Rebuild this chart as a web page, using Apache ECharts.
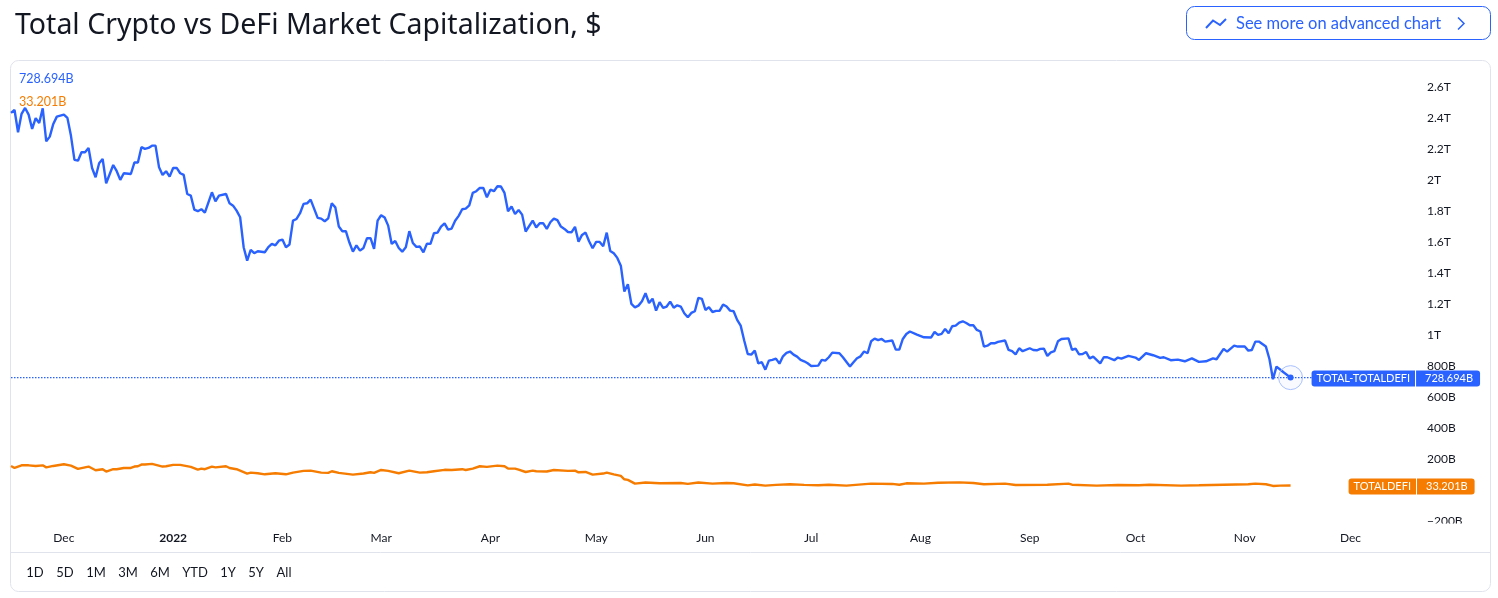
<!DOCTYPE html>
<html>
<head>
<meta charset="utf-8">
<style>
    html, body { margin: 0; padding: 0; background: #fff; }
    #chart { width: 1498px; height: 598px; }
</style>
<script src="https://cdn.jsdelivr.net/npm/echarts@6/dist/echarts.min.js"></script>
</head>
<body>
<div id="chart"></div>
<script>
// days counted from the first bar of the chart (2021-11-16), values in billions of dollars
const totalDays = [0, 1, 2, 3, 4, 5, 6, 7, 8, 9, 10, 11, 12, 13, 15, 16, 17, 18, 19, 20, 21, 22, 23, 24, 25, 26, 27, 29, 30, 31, 32, 34, 35, 36, 37, 38, 39, 40, 41, 42, 43, 44, 45, 46, 47, 48, 49, 50, 51, 52, 53, 54, 55, 57, 58, 59, 61, 62, 63, 64, 65, 66, 67, 68, 69, 70, 72, 73, 74, 75, 76, 77, 78, 79, 80, 81, 82, 83, 84, 85, 87, 88, 89, 90, 91, 92, 93, 94, 95, 96, 97, 98, 99, 100, 101, 102, 103, 104, 105, 106, 107, 108, 109, 110, 111, 112, 113, 114, 115, 116, 117, 118, 119, 120, 121, 122, 123, 124, 125, 126, 127, 128, 129, 130, 131, 132, 133, 134, 135, 136, 137, 138, 139, 140, 141, 142, 143, 144, 145, 146, 148, 149, 150, 151, 152, 153, 154, 155, 156, 157, 158, 159, 160, 161, 162, 163, 164, 165, 166, 167, 168, 169, 170, 171, 172, 173, 174, 175, 176, 177, 178, 179, 180, 181, 182, 183, 184, 185, 186, 187, 188, 189, 190, 191, 192, 193, 194, 195, 196, 197, 198, 199, 200, 201, 202, 203, 204, 205, 206, 207, 208, 209, 210, 211, 212, 213, 214, 215, 216, 217, 218, 219, 220, 221, 222, 223, 224, 225, 226, 227, 229, 230, 231, 232, 233, 235, 236, 238, 239, 240, 241, 242, 243, 244, 245, 246, 247, 248, 250, 251, 252, 253, 254, 255, 257, 259, 261, 262, 263, 264, 265, 266, 267, 268, 269, 270, 271, 272, 273, 274, 275, 276, 277, 278, 279, 280, 282, 283, 284, 285, 286, 287, 289, 290, 291, 292, 293, 294, 295, 296, 297, 298, 300, 301, 302, 303, 304, 305, 306, 307, 309, 310, 311, 313, 314, 315, 317, 319, 320, 322, 324, 326, 327, 329, 331, 333, 335, 337, 339, 341, 342, 344, 345, 347, 348, 350, 351, 352, 353, 354, 356, 357, 358, 359, 361, 363];
const totalValues = [2436, 2455, 2311, 2430, 2468, 2425, 2333, 2402, 2371, 2466, 2253, 2283, 2365, 2412, 2425, 2404, 2290, 2133, 2128, 2182, 2182, 2210, 2081, 2021, 2111, 2139, 1982, 2100, 2060, 2004, 2047, 2042, 2116, 2116, 2215, 2204, 2210, 2225, 2225, 2085, 2036, 2060, 2025, 2081, 2081, 2047, 2036, 1913, 1903, 1812, 1802, 1815, 1793, 1924, 1866, 1903, 1913, 1853, 1838, 1806, 1763, 1570, 1483, 1552, 1531, 1544, 1537, 1570, 1591, 1582, 1612, 1619, 1570, 1587, 1741, 1752, 1789, 1849, 1853, 1877, 1759, 1754, 1737, 1756, 1853, 1827, 1703, 1673, 1673, 1600, 1541, 1582, 1548, 1565, 1628, 1628, 1559, 1741, 1776, 1761, 1709, 1591, 1610, 1565, 1541, 1569, 1673, 1597, 1572, 1574, 1537, 1593, 1591, 1660, 1664, 1703, 1724, 1683, 1690, 1741, 1772, 1815, 1819, 1840, 1920, 1931, 1952, 1952, 1892, 1941, 1931, 1963, 1961, 1920, 1802, 1832, 1784, 1810, 1780, 1671, 1741, 1698, 1724, 1724, 1688, 1731, 1754, 1744, 1703, 1688, 1668, 1666, 1701, 1606, 1649, 1664, 1608, 1563, 1604, 1604, 1576, 1664, 1546, 1531, 1501, 1451, 1284, 1331, 1204, 1182, 1193, 1221, 1273, 1210, 1238, 1161, 1215, 1178, 1187, 1219, 1180, 1195, 1187, 1144, 1118, 1146, 1157, 1243, 1236, 1165, 1183, 1152, 1159, 1159, 1200, 1187, 1161, 1157, 1101, 1064, 968, 881, 877, 903, 821, 828, 780, 838, 843, 851, 819, 866, 888, 897, 877, 864, 843, 834, 821, 804, 806, 843, 838, 860, 890, 886, 860, 800, 828, 854, 866, 897, 886, 963, 980, 970, 978, 961, 968, 909, 909, 978, 1010, 1026, 1006, 989, 987, 1023, 1004, 1011, 1043, 1015, 1060, 1064, 1084, 1092, 1081, 1066, 1066, 1036, 1026, 929, 935, 950, 950, 959, 968, 907, 899, 879, 918, 899, 918, 907, 905, 914, 916, 869, 892, 899, 963, 978, 982, 907, 916, 879, 881, 894, 853, 864, 821, 860, 860, 841, 858, 851, 869, 858, 843, 886, 873, 856, 860, 841, 845, 834, 853, 830, 834, 853, 847, 914, 896, 935, 929, 929, 903, 907, 961, 961, 929, 849, 718, 800, 763, 728.694];

const defiDays = [0, 1, 3, 5, 7, 9, 10, 12, 15, 17, 19, 22, 24, 26, 27, 29, 30, 32, 34, 35, 36, 37, 38, 40, 43, 44, 46, 48, 51, 53, 54, 55, 57, 58, 61, 62, 64, 67, 68, 70, 72, 75, 78, 80, 83, 85, 88, 90, 91, 93, 97, 100, 102, 103, 105, 107, 110, 113, 116, 118, 120, 123, 125, 128, 129, 131, 133, 135, 138, 140, 141, 143, 144, 146, 148, 149, 152, 154, 158, 160, 161, 163, 165, 168, 169, 171, 173, 174, 175, 177, 180, 184, 190, 192, 195, 199, 203, 205, 209, 211, 214, 217, 221, 225, 229, 232, 237, 244, 250, 252, 254, 259, 263, 269, 273, 276, 282, 285, 294, 300, 301, 308, 314, 320, 323, 332, 337, 351, 353, 356, 358, 360, 363];
const defiValues = [159, 146, 163, 163, 159, 163, 150, 159, 170, 161, 140, 155, 131, 138, 123, 138, 138, 146, 146, 155, 157, 168, 168, 172, 155, 157, 166, 166, 153, 135, 142, 138, 155, 150, 157, 146, 138, 110, 116, 112, 105, 112, 105, 116, 127, 129, 116, 114, 125, 114, 103, 110, 118, 114, 133, 127, 112, 129, 116, 118, 125, 134, 133, 138, 133, 142, 157, 153, 161, 157, 142, 142, 135, 120, 129, 125, 123, 133, 127, 129, 118, 120, 103, 110, 116, 105, 95, 73, 69, 45, 52, 47, 49, 43, 52, 45, 49, 47, 34, 39, 32, 37, 41, 37, 34, 38, 32, 45, 43, 38, 47, 45, 51, 53, 49, 41, 45, 36, 38, 45, 38, 32, 36, 34, 38, 32, 34, 41, 45, 41, 30, 32, 33.201];

const monthTicks = ["2021-12-01", "2022-01-01", "2022-02-01", "2022-03-01", "2022-04-01", "2022-05-01", "2022-06-01", "2022-07-01", "2022-08-01", "2022-09-01", "2022-10-01", "2022-11-01", "2022-12-01"];
const monthLabels = ["Dec", "2022", "Feb", "Mar", "Apr", "May", "Jun", "Jul", "Aug", "Sep", "Oct", "Nov", "Dec"];
const priceTicks = [-200, 0, 200, 400, 600, 800, 1000, 1200, 1400, 1600, 1800, 2000, 2200, 2400, 2600];
const priceLabels = ["−200B", "", "200B", "400B", "600B", "800B", "1T", "1.2T", "1.4T", "1.6T", "1.8T", "2T", "2.2T", "2.4T", "2.6T"];
const rangeLabels = ["1D", "5D", "1M", "3M", "6M", "YTD", "1Y", "5Y", "All"];
const rangeCenters = [35, 65, 96, 128, 160, 195, 228, 256, 284];

const BLUE = "#2962ff";
const ORANGE = "#f57c00";
const INK = "#131722";
const FONT = "Lato, 'Noto Sans', sans-serif";

const firstDay = Date.UTC(2021, 10, 16);
const zip = (days, values) => days.map((day, i) => [day, values[i]]);
const tickDays = monthTicks.map(text => (Date.parse(text + "T00:00:00Z") - firstDay) / 86400000);

function tagLabel(name, value, color, offset) {
    return {
        show: true,
        position: "right",
        offset,
        formatter: `{a|${name}}{s|}{b|${value}}`,
        rich: {
            a: { backgroundColor: color, color: "#fff", fontFamily: FONT, fontSize: 11, height: 16, lineHeight: 16, padding: [0, 5, 0, 5], borderRadius: [3, 0, 0, 3] },
            s: { backgroundColor: "#fff", width: 1, height: 16 },
            b: { backgroundColor: color, color: "#fff", fontFamily: FONT, fontSize: 11, height: 16, lineHeight: 16, padding: [0, 7, 0, 9], borderRadius: [0, 3, 3, 0] }
        }
    };
}

const graphics = [
    { type: "rect", z: 0, silent: true, shape: { x: 10.5, y: 60.5, width: 1480, height: 531, r: 8 }, style: { fill: "none", stroke: "#e0e3eb" } },
    { type: "line", z: 0, silent: true, shape: { x1: 11, y1: 552.5, x2: 1490, y2: 552.5 }, style: { stroke: "#e0e3eb" } },
    // hides the lower half of the clipped -200B tick label
    { type: "rect", z: 3, silent: true, shape: { x: 1424, y: 523.5, width: 50, height: 9 }, style: { fill: "#fff" } },
    { type: "text", z: 10, style: { x: 19, y: 78.5, text: "728.694B", fill: BLUE, font: `12.5px ${FONT}`, verticalAlign: "middle" } },
    { type: "text", z: 10, style: { x: 19, y: 101.5, text: "33.201B", fill: ORANGE, font: `12.5px ${FONT}`, verticalAlign: "middle" } },
    { type: "rect", z: 1, silent: true, shape: { x: 1186.5, y: 6.5, width: 304, height: 33, r: 8 }, style: { fill: "#fff", stroke: BLUE } },
    { type: "polyline", z: 2, silent: true, shape: { points: [[1206, 28], [1213, 20.5], [1220, 25], [1226, 19]] }, style: { fill: "none", stroke: BLUE, lineWidth: 2 } },
    { type: "text", z: 2, style: { x: 1236, y: 23.5, text: "See more on advanced chart", fill: BLUE, font: `16.5px ${FONT}`, verticalAlign: "middle" } },
    { type: "polyline", z: 2, silent: true, shape: { points: [[1458, 17.5], [1464, 23.5], [1458, 29.5]] }, style: { fill: "none", stroke: BLUE, lineWidth: 1.5 } }
];
rangeLabels.forEach((text, i) => {
    graphics.push({ type: "text", z: 2, style: { x: rangeCenters[i], y: 573, text, fill: INK, font: `13px ${FONT}`, align: "center", verticalAlign: "middle" } });
});

const chart = echarts.init(document.getElementById("chart"));
const lastTotal = totalValues[totalValues.length - 1];
const lastDefi = defiValues[defiValues.length - 1];
const lastDay = totalDays[totalDays.length - 1];

chart.setOption({
    animation: false,
    title: {
        text: "Total Crypto vs DeFi Market Capitalization, $",
        left: 10,
        top: 6,
        textStyle: { color: INK, fontFamily: "'Noto Sans', sans-serif", fontSize: 28.5, fontWeight: 400 }
    },
    grid: { left: 11, top: 61.6, width: 1410, height: 460 },
    xAxis: {
        type: "value",
        min: 0,
        max: 400,
        axisLine: { show: false },
        axisTick: { show: false },
        splitLine: { show: false },
        axisLabel: {
            customValues: tickDays,
            margin: 10.5,
            color: INK,
            fontFamily: FONT,
            fontSize: 12,
            formatter: value => {
                const text = monthLabels[tickDays.indexOf(value)] ?? "";
                return text === "2022" ? `{y|${text}}` : text;
            },
            rich: { y: { fontWeight: 700, color: INK, fontFamily: FONT, fontSize: 12 } }
        }
    },
    yAxis: {
        type: "value",
        position: "right",
        min: -200,
        max: 2767,
        axisLine: { show: false },
        axisTick: { show: false },
        splitLine: { show: false },
        axisLabel: {
            customValues: priceTicks,
            margin: 6,
            color: INK,
            fontFamily: FONT,
            fontSize: 12,
            formatter: value => priceLabels[priceTicks.indexOf(value)] ?? ""
        }
    },
    series: [{
        name: "price line",
        type: "line",
        z: 1,
        silent: true,
        showSymbol: false,
        data: [[0, lastTotal], [369, lastTotal]],
        lineStyle: { color: BLUE, type: [1.5, 1.5], width: 1.2 }
    }, {
        name: "TOTAL-TOTALDEFI",
        type: "line",
        data: zip(totalDays, totalValues),
        showSymbol: false,
        lineStyle: { color: BLUE, width: 2.4 },
        itemStyle: { color: BLUE },
        markPoint: {
            silent: true,
            z: 6,
            data: [
                { coord: [lastDay, lastTotal], symbol: "circle", symbolSize: 24, itemStyle: { color: "rgba(41, 98, 255, 0.03)", borderColor: "#a8c0ff", borderWidth: 1 }, label: { show: false } },
                { coord: [lastDay, lastTotal], symbol: "circle", symbolSize: 6, itemStyle: { color: BLUE }, label: { show: false } },
                { coord: [lastDay, lastTotal], symbol: "circle", symbolSize: 0, label: tagLabel("TOTAL-TOTALDEFI", "728.694B", BLUE, [16, 1]) }
            ]
        }
    }, {
        name: "TOTALDEFI",
        type: "line",
        data: zip(defiDays, defiValues),
        showSymbol: false,
        lineStyle: { color: ORANGE, width: 2.4 },
        itemStyle: { color: ORANGE },
        markPoint: {
            silent: true,
            z: 6,
            data: [
                { coord: [lastDay, lastDefi], symbol: "circle", symbolSize: 0, label: tagLabel("TOTALDEFI", "33.201B", ORANGE, [53, 1]) }
            ]
        }
    }],
    graphic: graphics
});
</script>
</body>
</html>
